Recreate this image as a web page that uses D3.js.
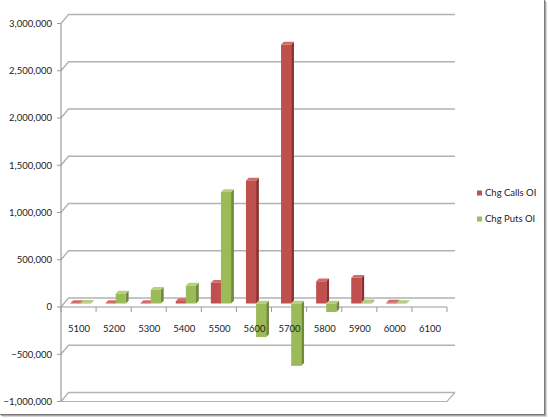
<!DOCTYPE html>
<html><head><meta charset="utf-8">
<script src="https://cdn.jsdelivr.net/npm/d3@7"></script>
<style>body{margin:0;background:#fff}svg{display:block}text{font-family:Lato,"Open Sans",sans-serif;fill:#222}</style>
</head><body><svg id="c" width="548" height="419"></svg>
<script>
const categories = ["5100","5200","5300","5400","5500","5600","5700","5800","5900","6000","6100"];
const callsOI = [5000, 5000, 5000, 25000, 220000, 1300000, 2740000, 235000, 272000, 10000, 0];
const putsOI  = [8000, 105000, 146000, 190000, 1180000, -355000, -660000, -90000, 12000, 5000, 0];
const yTicks = [-1000000, -500000, 0, 500000, 1000000, 1500000, 2000000, 2500000, 3000000];
const seriesNames = ["Chg Calls OI", "Chg Puts OI"];
const colors = [
  {front:"#C0504D", side:"#8E2F2C", top:"#D36C69"},
  {front:"#9BBB59", side:"#6F8A38", top:"#B5CF80"}
];

const svg = d3.select("#c");
const x = d3.scaleBand().domain(categories).range([61, 447]).padding(0);
const y = d3.scaleLinear().domain([-1000000, 3000000]).range([401.5, 23.5]);
const DX = 7.5, DY = -9;     // back wall depth offset
const grid = "#b2b2b2";

// gridlines (side-wall diagonal + back wall line)
yTicks.forEach(v => {
  const yy = y(v);
  svg.append("path")
    .attr("d", `M61,${yy}L${61+DX},${yy+DY}H455`)
    .attr("fill","none").attr("stroke",grid).attr("stroke-width",1.4);
});
// floor at bottom
svg.append("path").attr("d", `M455,${y(-1000000)+DY}L447,${y(-1000000)}H61`)
  .attr("fill","none").attr("stroke",grid).attr("stroke-width",1.2);

// y axis
svg.append("line").attr("x1",61).attr("x2",61).attr("y1",y(3000000)).attr("y2",y(-1000000))
  .attr("stroke","#9a9a9a").attr("stroke-width",1.2);
const fmt = d3.format(",");
yTicks.forEach(v => {
  svg.append("line").attr("x1",57).attr("x2",61).attr("y1",y(v)).attr("y2",y(v)).attr("stroke","#9a9a9a");
  svg.append("text").attr("x",52).attr("y",y(v)).attr("dy","0.35em")
    .attr("text-anchor","end").attr("font-size",9.5).text(fmt(v));
});

// category axis (front edge of zero floor)
svg.append("line").attr("x1",61).attr("x2",447).attr("y1",y(0)).attr("y2",y(0))
  .attr("stroke","#9a9a9a").attr("stroke-width",1.2);
const bounds = categories.map(c => x(c)).concat([x.range()[1]]);
bounds.forEach(b => {
  svg.append("line").attr("x1",b).attr("x2",b).attr("y1",y(0)).attr("y2",y(0)+5).attr("stroke","#9a9a9a");
});

// bars
const base = -3.5;      // bar front plane offset
const bw = x.bandwidth()*0.288, bd = 2.8;
const series = [callsOI, putsOI];
function bar(g, x0, v, col){
  const y0 = y(0)+base, y1 = y(v)+base;
  const top = Math.min(y0,y1), bot = Math.max(y0,y1);
  g.append("path").attr("d",`M${x0+bw},${top}L${x0+bw+bd},${top-bd}L${x0+bw+bd},${bot-bd}L${x0+bw},${bot}Z`).attr("fill",col.side);
  g.append("path").attr("d",`M${x0},${top}L${x0+bd},${top-bd}L${x0+bw+bd},${top-bd}L${x0+bw},${top}Z`).attr("fill",col.top);
  g.append("rect").attr("x",x0).attr("y",top).attr("width",bw).attr("height",Math.max(0,bot-top)).attr("fill",col.front);
}
const gb = svg.append("g");
categories.forEach((c,i) => {
  series.forEach((s,k) => {
    if (s[i] === 0) return;
    bar(gb, x(c)+9.5+k*bw, s[i], colors[k]);
  });
});

// category labels (drawn over the bars)
categories.forEach(c => {
  svg.append("text").attr("x",x(c)+x.bandwidth()/2+0.5).attr("y",329).attr("dy","0.35em")
    .attr("text-anchor","middle").attr("font-size",9.5).text(c);
});

// legend
seriesNames.forEach((n,k) => {
  const ly = 193 + k*26;
  svg.append("rect").attr("x",477).attr("y",ly-2.5).attr("width",5).attr("height",5).attr("fill",colors[k].front);
  svg.append("text").attr("x",485).attr("y",ly).attr("dy","0.35em").attr("font-size",9.5).text(n);
});

// frame shadow
svg.append("line").attr("x1",544.5).attr("x2",544.5).attr("y1",0).attr("y2",415).attr("stroke","#7a7a7a");
svg.append("line").attr("x1",545.5).attr("x2",545.5).attr("y1",1).attr("y2",416).attr("stroke","#a8a8a8");
svg.append("line").attr("x1",546.5).attr("x2",546.5).attr("y1",2).attr("y2",417).attr("stroke","#d6d6d6");
svg.append("line").attr("x1",0).attr("x2",545).attr("y1",414.5).attr("y2",414.5).attr("stroke","#7a7a7a");
svg.append("line").attr("x1",1).attr("x2",546).attr("y1",415.5).attr("y2",415.5).attr("stroke","#a8a8a8");
svg.append("line").attr("x1",2).attr("x2",547).attr("y1",416.5).attr("y2",416.5).attr("stroke","#d6d6d6");
</script></body></html>
